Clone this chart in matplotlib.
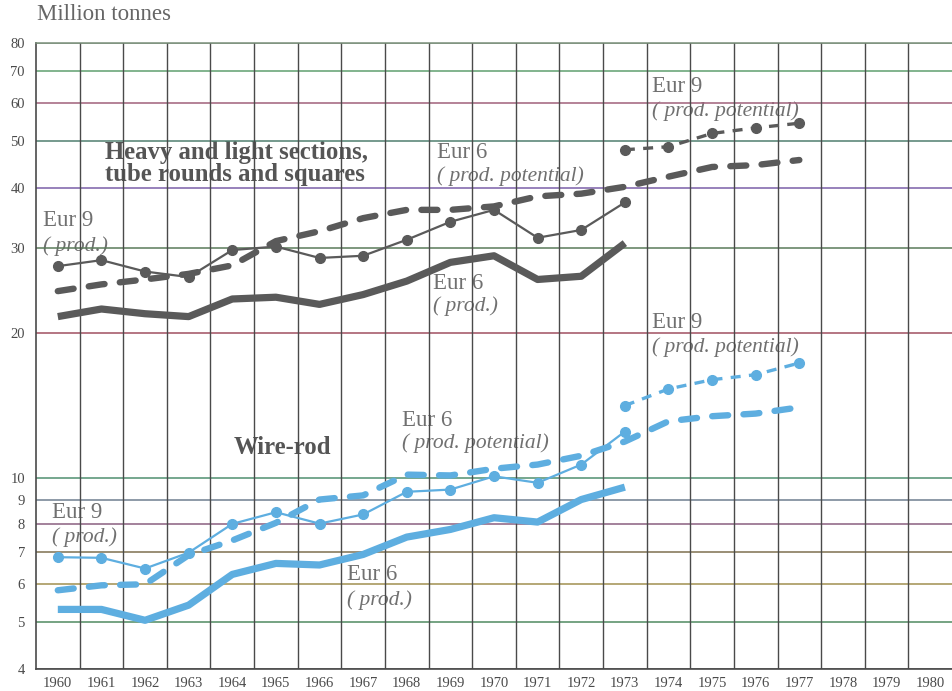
import matplotlib
matplotlib.use("Agg")
import matplotlib.pyplot as plt
from matplotlib.ticker import NullLocator, FixedLocator

plt.rcParams['font.family'] = ['Liberation Serif', 'DejaVu Serif']

# ---------------- data ----------------
years_prod = list(range(1960, 1974))
years_pot = list(range(1960, 1978))
years_pot9 = list(range(1973, 1978))

heavy_eur9_prod = [27.5, 28.3, 26.8, 26.1, 29.7, 30.2, 28.6, 28.9, 31.2, 34.0, 36.0, 31.5, 32.7, 37.3]
heavy_eur6_prod = [21.6, 22.4, 21.9, 21.6, 23.5, 23.7, 22.9, 24.0, 25.6, 28.0, 28.9, 25.8, 26.2, 30.7]
heavy_eur6_pot = [24.4, 25.2, 25.8, 26.5, 27.6, 31.0, 32.5, 34.6, 36.0, 36.0, 36.6, 38.4, 38.9, 40.2,
                  42.2, 44.2, 44.6, 45.7]
heavy_eur9_pot = [48.0, 48.7, 51.9, 53.3, 54.5]

wire_eur9_prod = [6.83, 6.81, 6.47, 6.98, 8.01, 8.47, 8.02, 8.38, 9.34, 9.44, 10.06, 9.75, 10.64, 12.46]
wire_eur6_prod = [5.32, 5.32, 5.05, 5.43, 6.29, 6.63, 6.58, 6.92, 7.52, 7.80, 8.25, 8.08, 9.0, 9.55]
wire_eur6_pot = [5.83, 5.97, 6.0, 6.9, 7.4, 8.05, 9.0, 9.18, 10.14, 10.1, 10.43, 10.64, 11.1, 11.88,
                 13.09, 13.41, 13.58, 13.99]
wire_eur9_pot = [14.11, 15.28, 15.97, 16.36, 17.30]

y_ticks = [4, 5, 6, 7, 8, 9, 10, 20, 30, 40, 50, 60, 70, 80]
y_tick_labels = [str(v) for v in y_ticks]
x_ticks = list(range(1960, 1981))
x_tick_labels = [str(v) for v in x_ticks]

hgrid_colors = ['#555555', '#4f8a60', '#a09050', '#7f7050', '#8a5f80', '#6f7f8f', '#4f9070',
                '#a05060', '#5a7a5a', '#7a5fa8', '#4f7f6f', '#a0607a', '#5f9f6f', '#7a8f7a']

DARK = '#5a5a5a'
BLUE = '#5eaee0'
TEXT = '#707070'
BOLD_TEXT = '#555555'

# ---------------- figure ----------------
W, H = 952, 691
fig = plt.figure(figsize=(W / 100, H / 100), dpi=100)
fig.patch.set_facecolor('white')
ax = fig.add_axes([36 / W, 1 - 669 / H, (W - 36) / W, (669 - 43) / H])
ax.set_yscale('log')
ax.set_ylim(4, 80)
ax.set_xlim(1959.5, 1980.5)

ax.yaxis.set_major_locator(FixedLocator(y_ticks))
ax.yaxis.set_minor_locator(NullLocator())
ax.set_yticklabels(y_tick_labels)
ax.set_xticks(x_ticks)
ax.set_xticklabels(x_tick_labels)
ax.tick_params(axis='y', length=0, pad=8, labelsize=10.5, labelcolor='#4a4a4a')
ax.tick_params(axis='x', length=0, pad=6, labelsize=10.5, labelcolor='#4a4a4a')

# grid
for v, c in zip(y_ticks, hgrid_colors):
    ax.axhline(v, color=c, lw=1.1, zorder=1.5)
for yr in x_ticks[:-1]:
    ax.axvline(yr + 0.5, color='#4a4a4a', lw=1.0, zorder=1.5)

for s in ['left', 'bottom']:
    ax.spines[s].set_color('#4a4a4a')
    ax.spines[s].set_linewidth(1.2)
ax.spines['top'].set_color('#7a8f7a')
ax.spines['top'].set_linewidth(1.1)
ax.spines['right'].set_visible(False)

# ---------------- series ----------------
def thick(x, y, c):
    ax.plot(x, y, color=c, lw=5.2, solid_joinstyle='round', solid_capstyle='butt', zorder=3)

def thick_dash(x, y, c):
    ax.plot(x, y, color=c, lw=4.6, dashes=(2.5, 2.4), dash_capstyle='round',
            dash_joinstyle='round', zorder=3)

def thin_dots(x, y, c):
    ax.plot(x, y, color=c, lw=1.6, marker='o', ms=7, mec=c, mfc=c, zorder=4)

def dash_dots(x, y, c):
    ax.plot(x, y, color=c, lw=2.4, dashes=(3, 2.5), marker='o', ms=7, mec=c, mfc=c, zorder=4)

thick(years_prod, heavy_eur6_prod, DARK)
thick_dash(years_pot, heavy_eur6_pot, DARK)
thin_dots(years_prod, heavy_eur9_prod, DARK)
dash_dots(years_pot9, heavy_eur9_pot, DARK)

thick(years_prod, wire_eur6_prod, BLUE)
thick_dash(years_pot, wire_eur6_pot, BLUE)
thin_dots(years_prod, wire_eur9_prod, BLUE)
dash_dots(years_pot9, wire_eur9_pot, BLUE)

# ---------------- text ----------------
def ftext(px, py, s, **kw):
    ax.text(px / W, 1 - py / H, s, transform=fig.transFigure, va='center', ha='left',
            zorder=1, **kw)

fig.text(37 / W, 1 - 15 / H, 'Million tonnes', fontsize=16.5, color='#666666', va='center', ha='left')

ftext(105, 153, 'Heavy and light sections,', fontsize=17.8, fontweight='bold', color=BOLD_TEXT)
ftext(105, 175, 'tube rounds and squares', fontsize=17.8, fontweight='bold', color=BOLD_TEXT)
ftext(234, 448, 'Wire-rod', fontsize=17.8, fontweight='bold', color=BOLD_TEXT)

def pair(px, py1, py2, a, b):
    ftext(px, py1, a, fontsize=16.5, color=TEXT)
    ftext(px, py2, b, fontsize=15.5, color=TEXT, style='italic')

pair(43, 220, 246, 'Eur 9', '( prod.)')
pair(437, 152, 176, 'Eur 6', '( prod. potential)')
pair(433, 284, 306, 'Eur 6', '( prod.)')
pair(652, 87, 111, 'Eur 9', '( prod. potential)')
pair(652, 322, 347, 'Eur 9', '( prod. potential)')
pair(402, 420, 443, 'Eur 6', '( prod. potential)')
pair(52, 513, 537, 'Eur 9', '( prod.)')
pair(347, 574, 600, 'Eur 6', '( prod.)')

fig.savefig('out.png', dpi=100, facecolor='white')
